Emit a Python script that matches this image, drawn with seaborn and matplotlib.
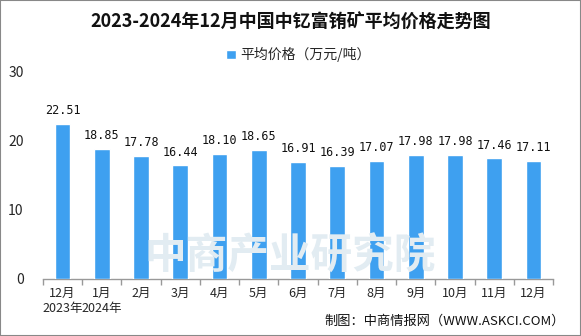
import matplotlib
matplotlib.use("Agg")
import matplotlib.pyplot as plt
import seaborn as sns
import pandas as pd

months = ["12月\n2023年", "1月\n2024年", "2月", "3月", "4月", "5月", "6月", "7月", "8月", "9月", "10月", "11月", "12月"]
prices = [22.51, 18.85, 17.78, 16.44, 18.10, 18.65, 16.91, 16.39, 17.07, 17.98, 17.98, 17.46, 17.11]
yticks = [0, 10, 20, 30]

sns.set_theme(style="white")
plt.rcParams['font.family'] = ['Noto Sans CJK SC', 'DejaVu Sans']

df = pd.DataFrame({"month": months, "price": prices})

fig = plt.figure(figsize=(5.81, 3.36), dpi=100)
ax = fig.add_axes([0.074, 0.170, 0.878, 0.616])

# watermark
fig.text(0.50, 0.235, "中商产业研究院", fontsize=30, color="#e2ecf2",
         ha="center", va="center", fontweight="bold", zorder=0)

sns.barplot(data=df, x="month", y="price", color="#3EA0F0", width=0.4,
            saturation=1, ax=ax, label="平均价格（万元/吨）", zorder=3)

for i, v in enumerate(prices):
    ax.text(i, v + 1.0, f"{v:.2f}", ha="center", va="bottom", fontsize=8.5,
            color="#111111", family=["DejaVu Sans Mono", "DejaVu Sans"])

ax.set_ylim(0, 30)
ax.set_yticks(yticks)
ax.set_xlim(-0.5, len(months) - 0.5)
ax.set_xlabel("")
ax.set_ylabel("")
ax.tick_params(axis="y", length=0, labelsize=10, pad=14)
ax.tick_params(axis="x", length=0, labelsize=9, pad=6)
for s in ["top", "right", "left"]:
    ax.spines[s].set_visible(False)
ax.spines["bottom"].set_color("#999999")
ax.spines["bottom"].set_linewidth(1.0)
# boundary ticks on the x axis
ax.set_xticks([i - 0.5 for i in range(len(months) + 1)], minor=True)
ax.tick_params(axis="x", which="minor", length=4, color="#999999", direction="out", bottom=True)
ax.set_facecolor("none")

leg = ax.legend(loc="upper center", bbox_to_anchor=(0.5, 1.18), frameon=False,
                fontsize=10, handlelength=0.7, handleheight=0.7, handletextpad=0.3)

fig.text(0.5, 0.935, "2023-2024年12月中国中钇富铕矿平均价格走势图", ha="center", va="center",
         fontsize=13, fontweight="bold", color="#111111")
fig.text(0.972, 0.045, "制图：中商情报网（WWW.ASKCI.COM）", ha="right", va="center",
         fontsize=9.5, color="#111111")

border = plt.Rectangle((0, 0), 1, 1, transform=fig.transFigure, fill=False,
                       edgecolor="#888888", linewidth=1.5)
fig.add_artist(border)

fig.savefig("out.png", dpi=100)
